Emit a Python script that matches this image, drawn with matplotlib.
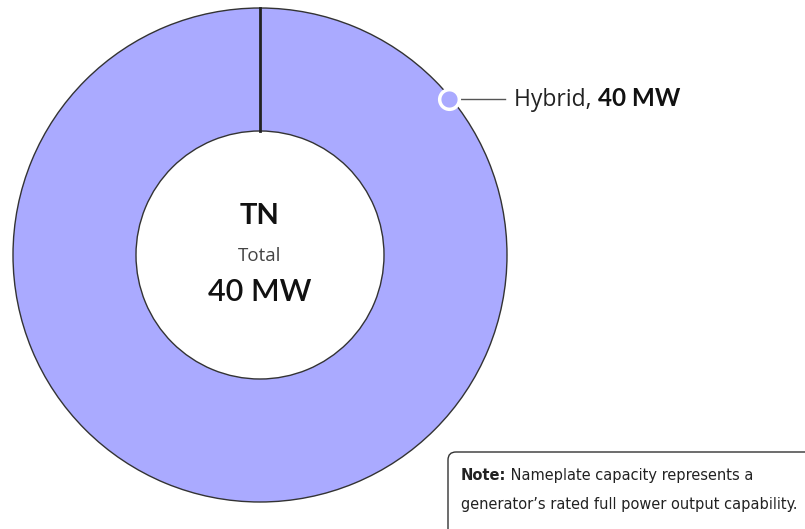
import matplotlib
matplotlib.use("Agg")
import matplotlib.pyplot as plt
from matplotlib.patches import FancyBboxPatch

# dados
categorias = ["Hybrid"]
valores = [40]
unidade = "MW"
estado = "TN"
cor = "#aaaaff"

plt.rcParams['font.family'] = ['Open Sans', 'DejaVu Sans']
negrito = ['Lato', 'DejaVu Sans']

fig = plt.figure(figsize=(8.05, 5.29), dpi=100)
ax = fig.add_axes([0, 0, 1, 1])

# rosca
cx, cy, r = 260, 255, 247
ri = 124
ax.pie(valores, colors=[cor], startangle=90, counterclock=False,
       center=(cx, cy), radius=r,
       wedgeprops=dict(width=r - ri, edgecolor="#333333", linewidth=1.0))
# linha de inicio da fatia
ax.plot([cx, cx], [cy - ri, cy - r], color="#222222", lw=2, zorder=3)

ax.set_xlim(0, 805)
ax.set_ylim(529, 0)
ax.set_aspect("equal")
ax.axis("off")

# textos do centro
total = sum(valores)
ax.text(cx, 216, estado, ha="center", va="center", fontsize=21, fontweight="bold",
        family=negrito, color="#111111")
ax.text(cx, 256, "Total", ha="center", va="center", fontsize=13.5, color="#444444")
ax.text(cx, 292, f"{total} {unidade}", ha="center", va="center", fontsize=22, fontweight="semibold",
        family=negrito, color="#111111")

# rotulo
ax.plot([460, 505], [99, 99], color="#555555", lw=1, zorder=3)
ax.scatter([449], [99], s=200, color=cor, edgecolors="white", linewidths=2.5, zorder=4)
t1 = ax.text(514, 106, f"{categorias[0]}, ", ha="left", va="baseline", fontsize=16.5, color="#222222")

# nota
caixa = FancyBboxPatch((448, 452), 400, 120, boxstyle="round,pad=0,rounding_size=8",
                       facecolor="white", edgecolor="#333333", linewidth=1, zorder=5)
ax.add_patch(caixa)
fonte_nota = ['DejaVu Sans']
n1 = ax.text(461, 480, "Note:", ha="left", va="baseline", fontsize=11.7, fontweight="bold",
             family=fonte_nota, fontstretch="condensed", color="#222222", zorder=6)
ax.text(461, 509, "generator\u2019s rated full power output capability.", ha="left", va="baseline",
        fontsize=11.7, family=fonte_nota, fontstretch="condensed", color="#222222", zorder=6)

# posicionar os trechos seguintes na mesma linha de base
fig.canvas.draw()
inv = ax.transData.inverted()
x1 = inv.transform((t1.get_window_extent().x1, 0))[0]
ax.text(x1, 106, f"{valores[0]} {unidade}", ha="left", va="baseline",
        fontsize=17.5, fontweight="bold", family=negrito, color="#111111")
x2 = inv.transform((n1.get_window_extent().x1, 0))[0]
ax.text(x2, 480, " Nameplate capacity represents a", ha="left", va="baseline",
        fontsize=11.7, family=fonte_nota, fontstretch="condensed", color="#222222", zorder=6)

fig.savefig("out.png", dpi=100)
